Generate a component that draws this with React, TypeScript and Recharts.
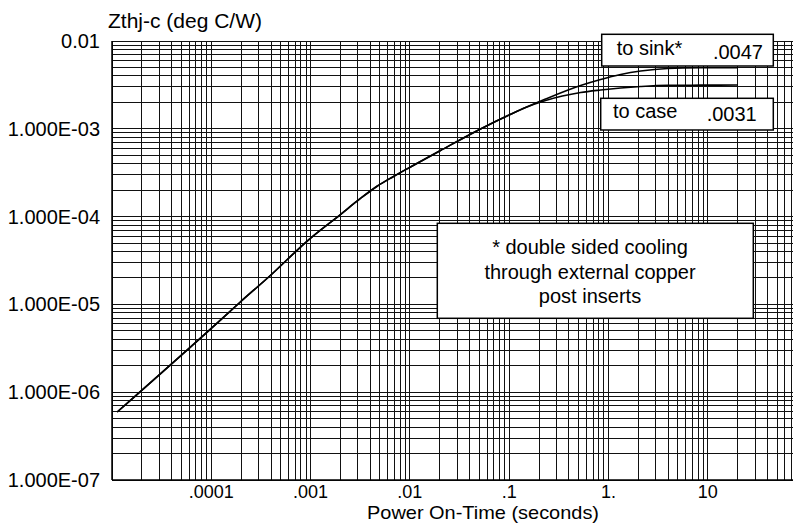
import { CartesianGrid, Line, LineChart, XAxis, YAxis } from 'recharts';

// values (seconds, deg C/W)
const times = [
  1.128e-5, 1.0e-4, 1.96e-4, 3.934e-4, 9.5e-4, 1.998e-3, 3.177e-3, 4.715e-3, 6.836e-3, 1.014e-2, 2.035e-2, 5.148e-2,
  9.86e-2, 0.1463, 0.2327, 0.5246, 0.8343, 1.327, 2.112, 3.953, 8.5, 20.06,
];
const toSink = [
  5.95e-7, 5.34e-6, 1.065e-5, 2.134e-5, 5.41e-5, 1.056e-4, 1.608e-4, 2.231e-4, 2.861e-4, 3.672e-4, 5.657e-4, 9.95e-4,
  1.425e-3, 1.748e-3, 2.184e-3, 3.113e-3, 3.643e-3, 4.154e-3, 4.553e-3, 4.862e-3, 4.952e-3, 4.965e-3,
];
const toCase = [
  5.95e-7, 5.34e-6, 1.065e-5, 2.134e-5, 5.41e-5, 1.056e-4, 1.608e-4, 2.231e-4, 2.861e-4, 3.672e-4, 5.657e-4, 9.95e-4,
  1.425e-3, 1.748e-3, 2.101e-3, 2.591e-3, 2.766e-3, 2.915e-3, 3.032e-3, 3.129e-3, 3.14e-3, 3.154e-3,
];

const xTickLabels: [number, string][] = [
  [1e-4, '.0001'],
  [1e-3, '.001'],
  [1e-2, '.01'],
  [1e-1, '.1'],
  [1, '1.'],
  [10, '10'],
];
const yTickLabels: [number, string][] = [
  [1e-7, '1.000E-07'],
  [1e-6, '1.000E-06'],
  [1e-5, '1.000E-05'],
  [1e-4, '1.000E-04'],
  [1e-3, '1.000E-03'],
  [1e-2, '0.01'],
];

const noteLines = ['* double sided cooling', 'through external copper', 'post inserts'];

const data = times.map((t, i) => ({ t, sink: toSink[i], case: toCase[i] }));

const FONT = '"Liberation Sans", Arial, Helvetica, sans-serif';

// 1..9 x 10^e grid positions for a log axis
function logTicks(fromExp: number, toExp: number) {
  const out: number[] = [];
  for (let e = fromExp; e < toExp; e++) {
    for (let m = 1; m <= 9; m++) out.push(m * Math.pow(10, e));
  }
  out.push(Math.pow(10, toExp));
  return out;
}

function labelFor(list: [number, string][], v: number) {
  const hit = list.find(([n]) => Math.abs(Math.log10(n) - Math.log10(v)) < 1e-6);
  return hit ? hit[1] : '';
}

const XTick = (props: any) => {
  const { x, y, payload } = props;
  const text = labelFor(xTickLabels, payload.value);
  if (!text) return <g />;
  return (
    <text x={x} y={y + 16} textAnchor="middle" fontFamily={FONT} fontSize={18} fill="#000">
      {text}
    </text>
  );
};

const YTick = (props: any) => {
  const { x, y, payload } = props;
  const text = labelFor(yTickLabels, payload.value);
  if (!text) return <g />;
  return (
    <text x={x} y={y + 7} textAnchor="end" fontFamily={FONT} fontSize={20} fill="#000">
      {text}
    </text>
  );
};

export default function App() {
  return (
    <div style={{ position: 'relative', width: 793, height: 515, overflow: 'hidden', background: '#fff' }}>
      <style>{`.recharts-cartesian-grid line { shape-rendering: crispEdges; }`}</style>
      <LineChart width={820} height={515} data={data} margin={{ top: 33, right: 21, bottom: 0, left: 0 }}>
        <CartesianGrid stroke="#111" strokeWidth={1} />
        <XAxis
          dataKey="t"
          type="number"
          scale="log"
          domain={[1e-5, 100]}
          allowDataOverflow
          ticks={logTicks(-5, 2)}
          interval={0}
          height={43}
          tickSize={0}
          tickLine={false}
          axisLine={{ stroke: '#000', strokeWidth: 1.5 }}
          tick={<XTick />}
        />
        <YAxis
          type="number"
          scale="log"
          domain={[1e-7, 1e-2]}
          allowDataOverflow
          ticks={logTicks(-7, -2)}
          interval={0}
          width={104}
          tickSize={0}
          tickMargin={12}
          tickLine={false}
          axisLine={{ stroke: '#000', strokeWidth: 1.5 }}
          tick={<YTick />}
        />
        <Line dataKey="sink" type="monotone" stroke="#000" strokeWidth={1.6} dot={false} isAnimationActive={false} />
        <Line dataKey="case" type="monotone" stroke="#000" strokeWidth={1.6} dot={false} isAnimationActive={false} />
      </LineChart>
      <svg width={793} height={515} style={{ position: 'absolute', left: 0, top: 0, pointerEvents: 'none' }}>
        <g fontFamily={FONT} fontSize={20} fill="#000">
          <text x={100} y={20} fontSize={21}>Zthj-c (deg C/W)</text>
          <text x={475} y={511} fontSize={19} textAnchor="middle" textLength={232} lengthAdjust="spacingAndGlyphs">
            Power On-Time (seconds)
          </text>

          <rect x={593.7} y={26.3} width={171.6} height={31.7} fill="#fff" stroke="#000" strokeWidth={1.5} />
          <text x={608.7} y={47}>to sink*</text>
          <text x={755} y={51.3} textAnchor="end">.0047</text>

          <rect x={592.7} y={90.3} width={172.6} height={31.7} fill="#fff" stroke="#000" strokeWidth={1.5} />
          <text x={605} y={110.3}>to case</text>
          <text x={748.7} y={112.7} textAnchor="end">.0031</text>

          <rect x={429.3} y={215.3} width={316} height={95} fill="#fff" stroke="#000" strokeWidth={1.5} />
          {noteLines.map((line, i) => (
            <text key={line} x={582} y={246.3 + i * 24.2} textAnchor="middle">
              {line}
            </text>
          ))}
        </g>
      </svg>
    </div>
  );
}
